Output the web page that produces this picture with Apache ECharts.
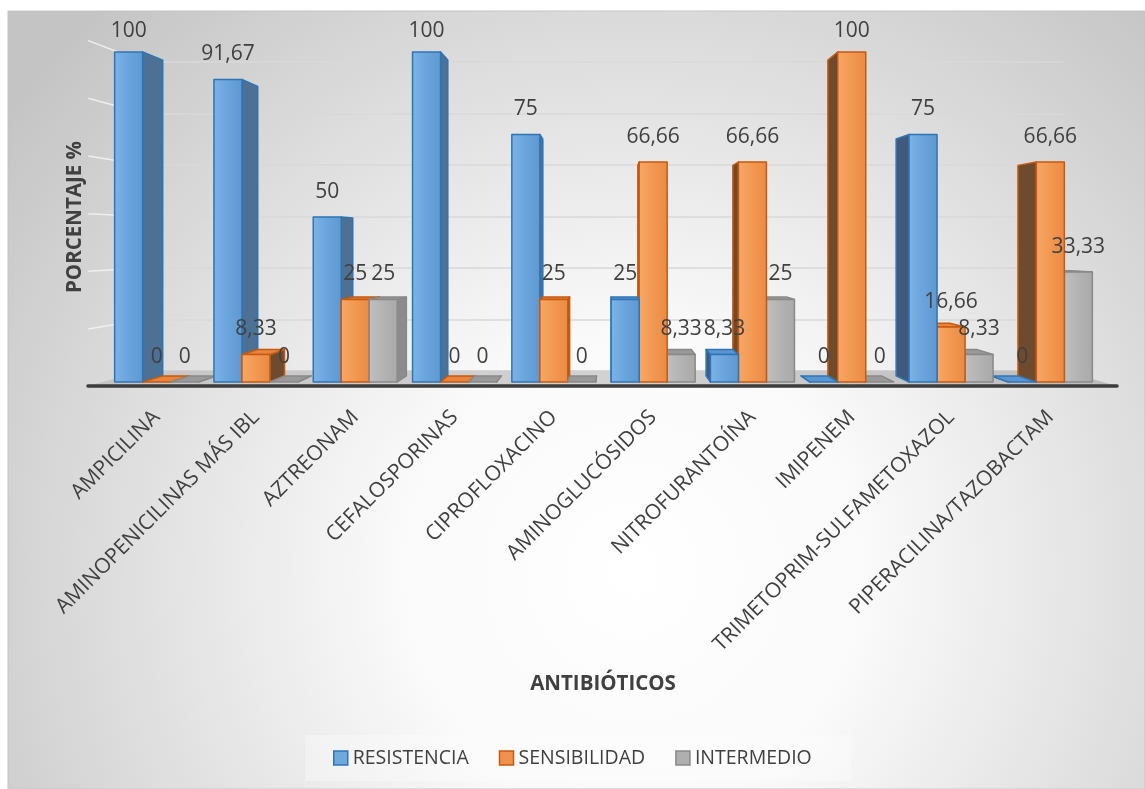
<!DOCTYPE html>
<html>
<head>
<meta charset="utf-8">
<script src="https://cdn.jsdelivr.net/npm/echarts@6/dist/echarts.min.js"></script>
<style>
html,body{margin:0;padding:0;background:#ffffff;}
#chart{width:1145px;height:789px;}
</style>
</head>
<body>
<div id="chart"></div>
<script>
// ---------------- DATA ----------------
const categories = [
  'AMPICILINA',
  'AMINOPENICILINAS MÁS IBL',
  'AZTREONAM',
  'CEFALOSPORINAS',
  'CIPROFLOXACINO',
  'AMINOGLUCÓSIDOS',
  'NITROFURANTOÍNA',
  'IMIPENEM',
  'TRIMETOPRIM-SULFAMETOXAZOL',
  'PIPERACILINA/TAZOBACTAM'
];
const resistencia  = [100, 91.67, 50, 100, 75, 25, 8.33, 0, 75, 0];
const sensibilidad = [0, 8.33, 25, 0, 25, 66.66, 66.66, 100, 16.66, 66.66];
const intermedio   = [0, 0, 25, 0, 0, 8.33, 25, 0, 8.33, 33.33];
const seriesNames  = ['RESISTENCIA', 'SENSIBILIDAD', 'INTERMEDIO'];
const wallTicks    = [20, 40, 60, 80, 100, 120];
const xTitle = 'ANTIBIÓTICOS';
const yTitle = 'PORCENTAJE %';

// ---------------- STYLE ----------------
const FONT = "'Open Sans', 'Noto Sans', sans-serif";
const TEXT = '#404040';
const VP = [609, 240];          // perspective vanishing point (pixels)
const BAR_DEPTH = 0.957;
const FLOOR_DEPTH = 0.893;
const BAR_FRAC = 0.282;

const palette = [
  {front: ['#7db4e7', '#6aa4dc', '#5f98d0'], stroke: '#2e75b6', side: '#4d7095', sideR: '#41597a', top: '#5a96d0', legend: '#6fa8dc'},
  {front: ['#f7a868', '#f29851', '#eb8a43'], stroke: '#c55a11', side: '#6e4b2f', sideR: '#6e4b2f', top: '#e8843c', legend: '#f0914d'},
  {front: ['#c0c0c0', '#b3b3b3', '#a9a9a9'], stroke: '#898989', side: '#8c8c8c', sideR: '#8c8c8c', top: '#9a9a9a', legend: '#afafaf'}
];
const seriesData = [resistencia, sensibilidad, intermedio];

function fmt(v) { return String(v).replace('.', ','); }

function bk(x, y, s) {
  return [VP[0] + s * (x - VP[0]), VP[1] + s * (y - VP[1])];
}

function barRenderer(si) {
  return function (params, api) {
    const ci = api.value(0), v = api.value(1);
    const p0 = api.coord([ci, 0]);
    const p1 = api.coord([ci, v]);
    const band = api.size([1, 0])[0];
    const bw = band * BAR_FRAC;
    const x1 = p0[0] - 1.5 * bw + si * bw, x2 = x1 + bw;
    const yB = p0[1], yT = p1[1];
    const pal = palette[si];
    const dist = Math.abs((x1 + x2) / 2 - VP[0]);
    const zb = Math.round(3000 - dist) * 4;
    const stroke = {stroke: pal.stroke, lineWidth: 1.5, lineJoin: 'round'};
    const children = [];
    if (x2 < VP[0]) {
      children.push({type: 'polygon', z2: zb,
        shape: {points: [[x2, yT], bk(x2, yT, BAR_DEPTH), bk(x2, yB, BAR_DEPTH), [x2, yB]]},
        style: Object.assign({fill: pal.side}, stroke)});
    } else if (x1 > VP[0]) {
      children.push({type: 'polygon', z2: zb,
        shape: {points: [[x1, yT], bk(x1, yT, BAR_DEPTH), bk(x1, yB, BAR_DEPTH), [x1, yB]]},
        style: Object.assign({fill: pal.sideR}, stroke)});
    }
    if (yT > VP[1]) {
      children.push({type: 'polygon', z2: zb + 1,
        shape: {points: [[x1, yT], [x2, yT], bk(x2, yT, BAR_DEPTH), bk(x1, yT, BAR_DEPTH)]},
        style: Object.assign({fill: pal.top}, stroke)});
    }
    if (yB - yT > 0.5) {
      children.push({type: 'rect', z2: zb + 2,
        shape: {x: x1, y: yT, width: bw, height: yB - yT},
        style: Object.assign({
          fill: new echarts.graphic.LinearGradient(0, 0, 1, 0, [
            {offset: 0, color: pal.front[0]},
            {offset: 0.5, color: pal.front[1]},
            {offset: 1, color: pal.front[2]}
          ])
        }, stroke)});
    }
    const fc = (x1 + x2) / 2;
    children.push({type: 'text', z2: 100000,
      style: {text: fmt(v), x: fc, y: Math.max(yT - 25, 31),
        fill: TEXT, fontSize: 21, fontFamily: FONT, align: 'center', verticalAlign: 'middle'}});
    return {type: 'group', children: children};
  };
}

function floorRenderer(params, api) {
  const band = api.size([1, 0])[0];
  const L = api.coord([0, 0]);
  const R = api.coord([categories.length - 1, 0]);
  const xL = L[0] - band / 2 - 19, xR = R[0] + band / 2 + 17, yF = L[1] + 4;
  return {type: 'group', children: [
    {type: 'polygon', z2: -100,
      shape: {points: [[xL, yF], [xR, yF], bk(xR, yF, FLOOR_DEPTH), bk(xL, yF, FLOOR_DEPTH)]},
      style: {fill: new echarts.graphic.LinearGradient(0, 0, 1, 0, [
        {offset: 0, color: '#c4c4c4'}, {offset: 0.5, color: '#d2d2d2'}, {offset: 1, color: '#bcbcbc'}])}},
    {type: 'line', z2: -99,
      shape: {x1: xL, y1: yF, x2: xR, y2: yF},
      style: {stroke: '#3d3d3d', lineWidth: 3.5, lineCap: 'round'}}
  ]};
}

function sideWallRenderer(params, api) {
  const p = api.coord([0, api.value(0)]);
  const f = [VP[0] + (p[0] - VP[0]) / FLOOR_DEPTH, VP[1] + (p[1] - VP[1]) / FLOOR_DEPTH];
  return {type: 'line', shape: {x1: f[0], y1: f[1], x2: p[0], y2: p[1]},
    style: {stroke: 'rgba(245,245,245,0.85)', lineWidth: 1.5}};
}

const chart = echarts.init(document.getElementById('chart'), null, {renderer: 'canvas'});

const series = [
  {type: 'custom', name: 'floor', xAxisIndex: 0, yAxisIndex: 0, silent: true,
    renderItem: floorRenderer, data: [[0, 0]], z: 1},
  {type: 'custom', name: 'wall', xAxisIndex: 1, yAxisIndex: 1, silent: true,
    renderItem: sideWallRenderer, data: wallTicks.map(v => [v]), encode: {y: 0}, z: 1}
];
seriesNames.forEach((name, si) => {
  series.push({
    type: 'custom', name: name, xAxisIndex: 0, yAxisIndex: 0, z: 2,
    renderItem: barRenderer(si),
    itemStyle: {color: palette[si].legend, borderColor: palette[si].stroke, borderWidth: 1.5},
    encode: {x: 0, y: 1},
    data: seriesData[si].map((v, i) => [i, v])
  });
});

chart.setOption({
  animation: false,
  textStyle: {fontFamily: FONT},
  graphic: [
    {type: 'rect', z: -10, silent: true,
      shape: {x: 8, y: 11, width: 1145 - 8, height: 789 - 11},
      style: {
        fill: new echarts.graphic.RadialGradient(0.55, 0.72, 1.0, [
          {offset: 0, color: '#ffffff'},
          {offset: 0.3, color: '#fafafa'},
          {offset: 1, color: '#c4c4c4'}
        ]),
        stroke: '#c4c4c4', lineWidth: 1
      }},
    {type: 'text', silent: true, x: 603, y: 684,
      style: {text: xTitle, fill: TEXT, fontSize: 20.5, fontWeight: 'bold', fontFamily: FONT,
        align: 'center', verticalAlign: 'middle'}},
    {type: 'text', silent: true, x: 75, y: 217, rotation: Math.PI / 2,
      style: {text: yTitle, fill: TEXT, fontSize: 20.5, fontWeight: 'bold', fontFamily: FONT,
        align: 'center', verticalAlign: 'middle'}}
  ],
  legend: {
    left: 305, top: 735,
    padding: [13, 40, 13, 28],
    backgroundColor: 'rgba(255,255,255,0.3)',
    itemGap: 30, itemWidth: 14, itemHeight: 14,
    icon: 'rect',
    textStyle: {fontSize: 19.5, color: TEXT, fontFamily: FONT},
    data: seriesNames.map((n, i) => ({name: n,
      itemStyle: {color: palette[i].legend, borderColor: palette[i].stroke, borderWidth: 1.5}}))
  },
  grid: [
    {left: 107, right: 45, top: 52, bottom: 407, containLabel: false, outerBoundsMode: 'none'},
    {left: 144, right: 82, top: 62, bottom: 418, containLabel: false, outerBoundsMode: 'none'}
  ],
  xAxis: [
    {type: 'category', gridIndex: 0, data: categories,
      axisLine: {show: false}, axisTick: {show: false}, splitLine: {show: false},
      axisLabel: {interval: 0, rotate: 45, margin: 32, fontSize: 21, color: TEXT, fontFamily: FONT}},
    {type: 'value', gridIndex: 1, min: 0, max: 1, show: false}
  ],
  yAxis: [
    {type: 'value', gridIndex: 0, min: 0, max: 100, show: false},
    {type: 'value', gridIndex: 1, min: 0, max: 120, interval: 20,
      axisLine: {show: false}, axisTick: {show: false}, axisLabel: {show: false},
      splitLine: {show: true, lineStyle: {color: '#d8d8d8', width: 1.5}}}
  ],
  series: series
});
</script>
</body>
</html>
